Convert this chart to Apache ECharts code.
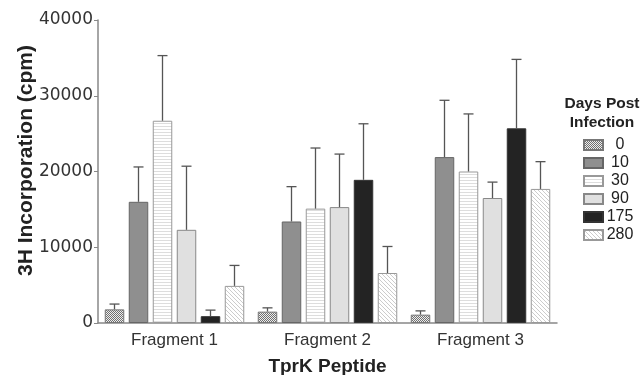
<!DOCTYPE html>
<html>
<head>
<meta charset="utf-8">
<script src="https://cdn.jsdelivr.net/npm/echarts@6/dist/echarts.min.js"></script>
<style>
  html, body { margin: 0; padding: 0; background: #fff; }
  #chart { width: 642px; height: 375px; }
</style>
</head>
<body>
<div id="chart"></div>
<script>
var categories = ['Fragment 1', 'Fragment 2', 'Fragment 3'];
var days = ['0', '10', '30', '90', '175', '280'];
var yTicks = [0, 10000, 20000, 30000, 40000];

// mean cpm, one array per day post infection
var day0 = [1800, 1500, 1100];
var day10 = [16000, 13400, 21900];
var day30 = [26700, 15100, 20000];
var day90 = [12300, 15300, 16500];
var day175 = [900, 18900, 25700];
var day280 = [4900, 6600, 17700];

// top of the error whisker (mean + sd)
var err0 = [2500, 2000, 1600];
var err10 = [20600, 18000, 29400];
var err30 = [35300, 23100, 27600];
var err90 = [20700, 22300, 18600];
var err175 = [1700, 26300, 34800];
var err280 = [7600, 10100, 21300];

var means = [day0, day10, day30, day90, day175, day280];
var errs = [err0, err10, err30, err90, err175, err280];

function pattern(kind) {
  var c = document.createElement('canvas');
  var ctx = c.getContext('2d');
  if (kind === 'check') {
    c.width = 2; c.height = 2;
    ctx.fillStyle = '#eeeeee'; ctx.fillRect(0, 0, 2, 2);
    ctx.fillStyle = '#707070';
    ctx.fillRect(0, 0, 1, 1); ctx.fillRect(1, 1, 1, 1);
  } else if (kind === 'horiz') {
    c.width = 4; c.height = 3;
    ctx.fillStyle = '#ffffff'; ctx.fillRect(0, 0, 4, 3);
    ctx.fillStyle = '#dddddd'; ctx.fillRect(0, 0, 4, 1);
  } else {
    c.width = 4; c.height = 4;
    ctx.fillStyle = '#ffffff'; ctx.fillRect(0, 0, 4, 4);
    ctx.fillStyle = '#cccccc';
    for (var i = 0; i < 4; i++) ctx.fillRect(i, i, 1, 1);
  }
  return { image: c, repeat: 'repeat' };
}

var fills = [
  pattern('check'), '#8f8f8f', pattern('horiz'), '#e0e0e0', '#232323', pattern('diag')
];
var borders = ['#777', '#666', '#999', '#888', '#333', '#999'];

var barW = 19.5, barGapPx = 4.5;

var series = [];
days.forEach(function (d, i) {
  series.push({
    name: d,
    type: 'bar',
    data: means[i],
    barWidth: barW,
    barGap: (barGapPx / barW * 100) + '%',
    itemStyle: { color: fills[i], borderColor: borders[i], borderWidth: 1 }
  });
});
days.forEach(function (d, i) {
  var offset = (i - (days.length - 1) / 2) * (barW + barGapPx);
  series.push({
    name: 'err' + d,
    type: 'custom',
    data: categories.map(function (c, k) { return [k, means[i][k], errs[i][k]]; }),
    z: 3,
    renderItem: function (params, api) {
      var p0 = api.coord([api.value(0), api.value(1)]);
      var p1 = api.coord([api.value(0), api.value(2)]);
      var x = p0[0] + offset;
      var st = { stroke: '#555', lineWidth: 1.3 };
      return {
        type: 'group',
        children: [
          { type: 'line', shape: { x1: x, y1: p0[1], x2: x, y2: p1[1] }, style: st },
          { type: 'line', shape: { x1: x - 5, y1: p1[1], x2: x + 5, y2: p1[1] }, style: st }
        ]
      };
    }
  });
});

var chart = echarts.init(document.getElementById('chart'));
chart.setOption({
  animation: false,
  textStyle: { fontFamily: 'Liberation Sans, Arial, sans-serif' },
  grid: { left: 98, right: 85, top: 20, bottom: 52, outerBoundsMode: 'none', containLabel: false },
  legend: {
    data: days,
    orient: 'vertical',
    left: 583,
    top: 137,
    padding: 0,
    icon: 'rect',
    itemWidth: 19,
    itemHeight: 10,
    itemGap: 2,
    formatter: '{a|{name}}',
    textStyle: {
      rich: { a: { fontSize: 16, color: '#222', lineHeight: 16, width: 24, align: 'center' } }
    }
  },
  graphic: [{
    type: 'text',
    x: 602,
    y: 94,
    style: {
      text: 'Days Post\nInfection',
      fill: '#222',
      lineHeight: 19,
      textAlign: 'center',
      font: 'bold 15.5px Liberation Sans, Arial, sans-serif'
    }
  }],
  xAxis: {
    type: 'category',
    data: categories,
    name: 'TprK Peptide',
    nameLocation: 'middle',
    nameGap: 34,
    nameMoveOverlap: false,
    nameTextStyle: { fontSize: 19, fontWeight: 'bold', color: '#222' },
    axisLine: { lineStyle: { color: '#888', width: 1.5 } },
    axisTick: { show: false },
    axisLabel: { fontSize: 17, color: '#333', margin: 9 }
  },
  yAxis: {
    type: 'value',
    min: yTicks[0],
    max: yTicks[yTicks.length - 1],
    interval: yTicks[1] - yTicks[0],
    name: '3H Incorporation (cpm)',
    nameLocation: 'middle',
    nameGap: 61,
    nameMoveOverlap: false,
    nameTextStyle: { fontSize: 21, fontWeight: 'bold', color: '#222', padding: [0, 0, 0, 22] },
    axisLine: { show: true, lineStyle: { color: '#888', width: 1.5 } },
    axisTick: { show: true, length: 4, lineStyle: { color: '#888' } },
    axisLabel: {
      fontSize: 17, color: '#333', margin: 5, fontFamily: 'DejaVu Sans',
      formatter: function (v) { return String(v); }
    },
    splitLine: { show: false }
  },
  series: series
});
</script>
</body>
</html>
